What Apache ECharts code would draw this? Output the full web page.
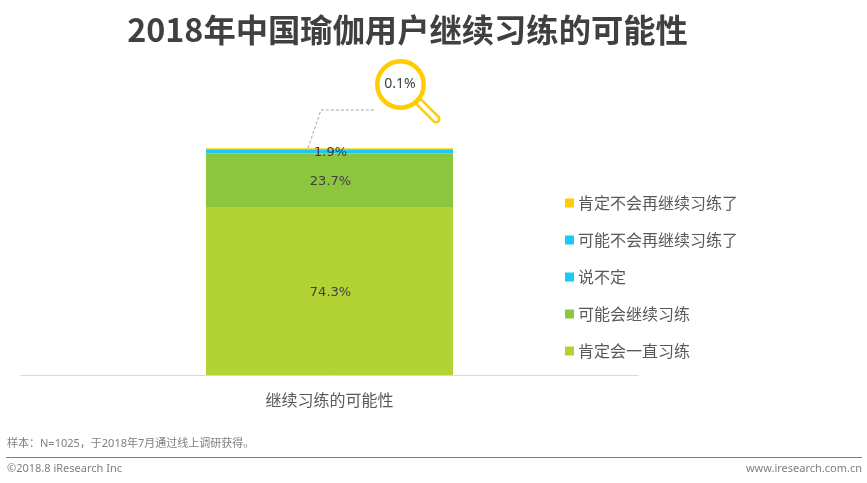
<!DOCTYPE html>
<html>
<head>
<meta charset="utf-8">
<style>
html, body { margin: 0; padding: 0; background: #fff; }
#chart { width: 867px; height: 483px; }
</style>
<script src="https://cdn.jsdelivr.net/npm/echarts@6/dist/echarts.min.js"></script>
</head>
<body>
<div id="chart"></div>
<script>
const cjk = '"Noto Sans CJK SC", sans-serif'
const latin = '"DejaVu Sans", sans-serif'
const small = '"Noto Sans", "Noto Sans CJK SC", sans-serif'

const categories = ['继续习练的可能性']
const seriesNames = ['肯定会一直习练', '可能会继续习练', '说不定', '可能不会再继续习练了', '肯定不会再继续习练了']
const seriesValues = [74.3, 23.7, 1.9, 0, 0.1]
const seriesColors = ['#b2d235', '#8cc63f', '#1cc8f5', '#1cc8f5', '#ffcc00']
const legendOrder = ['肯定不会再继续习练了', '可能不会再继续习练了', '说不定', '可能会继续习练', '肯定会一直习练']

let myChart = echarts.init(document.getElementById('chart'), null, { renderer: 'canvas' })

let series = seriesNames.map((name, i) => {
    return {
        name: name,
        type: 'bar',
        stack: 'total',
        barWidth: 247,
        clip: false,
        // 0.1% would be thinner than a pixel
        barMinHeight: name === '肯定不会再继续习练了' ? 1 : 0,
        itemStyle: { color: seriesColors[i] },
        label: {
            // 0.1% sits in the magnifier, 0 is not shown
            show: seriesValues[i] >= 1,
            position: 'inside',
            offset: [1, 1.5],
            formatter: seriesValues[i] + '%',
            color: '#404040',
            fontFamily: latin,
            fontSize: 13
        },
        data: [seriesValues[i]]
    }
})

let option = {
    animation: false,
    title: {
        text: '2018年中国瑜伽用户继续习练的可能性',
        left: 402.5,
        top: 9,
        textAlign: 'center',
        textStyle: { color: '#404040', fontFamily: cjk, fontWeight: 'bold', fontSize: 32.3 }
    },
    legend: {
        data: legendOrder,
        orient: 'vertical',
        left: 560,
        top: 187,
        itemWidth: 9,
        itemHeight: 9,
        itemGap: 15,
        icon: 'rect',
        textStyle: { color: '#595959', fontFamily: cjk, fontSize: 16, lineHeight: 22, padding: [0, 0, 0, -1] }
    },
    grid: { left: 21, right: 229, top: 149, bottom: 108 },
    xAxis: {
        type: 'category',
        data: categories,
        axisTick: { show: false },
        axisLine: { lineStyle: { color: '#d9d9d9' } },
        axisLabel: { color: '#595959', fontFamily: cjk, fontSize: 16, margin: 17 }
    },
    yAxis: { type: 'value', min: 0, max: 100, show: false },
    series: series,
    graphic: [
        {
            type: 'polyline',
            shape: { points: [[308, 148], [321, 110], [375, 110]] },
            style: { stroke: '#a6a6a6', lineWidth: 1, lineDash: [3, 2], fill: null }
        },
        {
            type: 'line',
            shape: { x1: 420, y1: 103, x2: 436, y2: 119 },
            style: { stroke: '#ffcc00', lineWidth: 9, lineCap: 'round' }
        },
        {
            type: 'line',
            shape: { x1: 420, y1: 103, x2: 436, y2: 119 },
            style: { stroke: '#fff', lineWidth: 4, lineCap: 'round' }
        },
        {
            type: 'circle',
            shape: { cx: 400.5, cy: 84.5, r: 23.2 },
            style: { stroke: '#ffcc00', lineWidth: 4.5, fill: '#fff' }
        },
        {
            type: 'text',
            style: {
                x: 400, y: 84, text: seriesValues[4] + '%',
                fill: '#404040', font: '14px ' + small,
                align: 'center', verticalAlign: 'middle'
            }
        },
        {
            type: 'text',
            style: {
                x: 7, y: 444, text: '样本：N=1025，于2018年7月通过线上调研获得。',
                fill: '#7f7f7f', font: '11px ' + small, verticalAlign: 'middle'
            }
        },
        {
            type: 'line',
            shape: { x1: 6, y1: 457.5, x2: 862, y2: 457.5 },
            style: { stroke: '#7f7f7f', lineWidth: 1 }
        },
        {
            type: 'text',
            style: {
                x: 7, y: 469, text: '©2018.8 iResearch Inc',
                fill: '#7f7f7f', font: '11px ' + small, verticalAlign: 'middle'
            }
        },
        {
            type: 'text',
            style: {
                x: 862, y: 469, text: 'www.iresearch.com.cn',
                fill: '#7f7f7f', font: '11px ' + small, align: 'right', verticalAlign: 'middle'
            }
        }
    ]
}
myChart.setOption(option)
</script>
</body>
</html>
